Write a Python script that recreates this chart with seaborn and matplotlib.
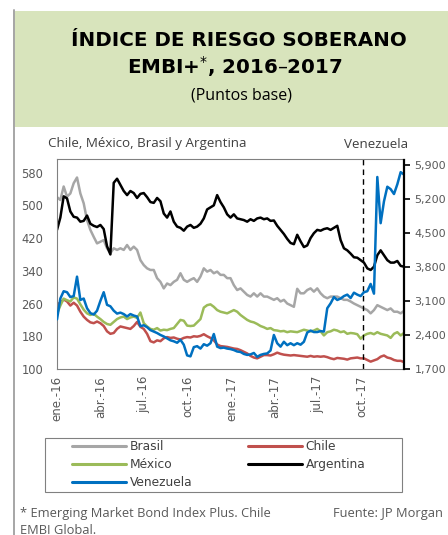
import pandas as pd
import matplotlib
matplotlib.use('Agg')
import matplotlib.pyplot as plt
from matplotlib.lines import Line2D
from matplotlib.patches import Rectangle
import seaborn as sns

# weekly readings, 2016-01-01 .. 2017-12-29
dates = pd.date_range('2016-01-01', '2017-12-29', freq='7D')

brasil = [520, 513, 546, 521, 529, 554, 568, 529, 505, 464,
          440, 423, 407, 411, 415, 395, 383, 395, 391, 395,
          391, 403, 391, 399, 391, 366, 354, 346, 342, 342,
          322, 313, 297, 309, 305, 313, 318, 334, 318, 313,
          318, 322, 313, 326, 346, 338, 342, 334, 338, 330,
          330, 322, 322, 305, 293, 297, 289, 281, 277, 285,
          277, 285, 277, 277, 273, 269, 273, 265, 269, 260,
          256, 252, 296, 285, 285, 293, 297, 289, 297, 285,
          277, 273, 277, 277, 277, 273, 269, 269, 265, 260,
          256, 252, 248, 244, 236, 244, 256, 252, 248, 244,
          248, 240, 240, 236, 242]
chile = [258, 262, 270, 265, 255, 262, 255, 240, 228, 220,
         214, 212, 216, 212, 205, 192, 186, 188, 198, 204,
         202, 200, 198, 205, 215, 203, 198, 186, 168, 165,
         170, 168, 175, 178, 176, 177, 174, 172, 176, 178,
         177, 180, 179, 181, 185, 180, 176, 170, 160, 156,
         155, 154, 152, 150, 149, 146, 142, 138, 132, 128,
         126, 130, 134, 134, 133, 136, 140, 137, 135, 134,
         133, 134, 133, 132, 131, 130, 132, 130, 131, 130,
         131, 129, 126, 124, 127, 126, 125, 123, 126, 127,
         128, 126, 126, 122, 118, 121, 124, 130, 133, 128,
         126, 122, 120, 120, 117]
mexico = [235, 255, 272, 268, 265, 275, 272, 258, 245, 236,
          232, 235, 228, 222, 215, 210, 208, 215, 222, 226,
          228, 222, 226, 228, 225, 238, 212, 204, 198, 196,
          200, 194, 196, 195, 198, 200, 210, 220, 218, 206,
          205, 206, 214, 222, 250, 256, 258, 252, 244, 240,
          238, 236, 240, 244, 240, 232, 226, 220, 216, 214,
          210, 205, 202, 198, 200, 195, 194, 192, 193, 190,
          192, 191, 190, 193, 196, 194, 192, 194, 198, 192,
          182, 190, 192, 196, 194, 190, 192, 186, 188, 187,
          185, 174, 182, 186, 188, 185, 190, 186, 184, 182,
          176, 186, 190, 182, 188]
argentina = [440, 470, 522, 517, 485, 472, 470, 460, 462, 475,
             455, 450, 447, 452, 442, 400, 380, 555, 565, 550,
             535, 525, 535, 530, 518, 528, 530, 520, 508, 506,
             518, 510, 480, 470, 485, 460, 448, 445, 438, 448,
             452, 445, 448, 455, 468, 490, 495, 500, 525, 508,
             495, 478, 470, 478, 468, 466, 464, 460, 466, 462,
             468, 470, 466, 468, 462, 463, 450, 440, 430, 418,
             408, 405, 428, 412, 398, 402, 420, 432, 440, 438,
             442, 444, 440, 445, 450, 415, 395, 390, 382, 373,
             372, 366, 360, 346, 342, 350, 378, 390, 378, 366,
             360, 360, 364, 352, 350]
venezuela = [2720, 3150, 3300, 3280, 3180, 3200, 3600, 3120, 3150, 2950,
             2850, 2820, 2900, 3100, 3280, 3020, 2990, 2900, 2840, 2860,
             2830, 2780, 2830, 2800, 2780, 2580, 2600, 2560, 2500, 2470,
             2440, 2400, 2370, 2330, 2290, 2270, 2240, 2300, 2200, 1980,
             1960, 2150, 2170, 2120, 2210, 2180, 2230, 2420, 2160, 2130,
             2140, 2120, 2110, 2090, 2060, 2050, 2010, 1990, 2000, 2030,
             1950, 1990, 2010, 2020, 2080, 2400, 2230, 2160, 2260, 2190,
             2230, 2190, 2230, 2200, 2260, 2450, 2490, 2460, 2460, 2480,
             2470, 2950, 3050, 3180, 3120, 3150, 3200, 3230, 3160, 3270,
             3230, 3200, 3280, 3300, 3450, 3250, 5650, 4700, 5150, 5450,
             5400, 5300, 5500, 5750, 5700]

tick_dates = pd.to_datetime(['2016-01-01', '2016-04-01', '2016-07-01', '2016-10-01',
                             '2017-01-01', '2017-04-01', '2017-07-01', '2017-10-01'])
tick_labels = ['ene.-16', 'abr.-16', 'jul.-16', 'oct.-16',
               'ene.-17', 'abr.-17', 'jul.-17', 'oct.-17']
left_ticks = [100, 180, 260, 340, 420, 500, 580]
right_ticks = [1700, 2400, 3100, 3800, 4500, 5200, 5900]
marker_date = pd.Timestamp('2017-10-04')

colors = {'Brasil': '#a6a6a6', 'Chile': '#c0504d', 'México': '#9bbb59',
          'Argentina': '#000000', 'Venezuela': '#0070c0'}

df = pd.DataFrame({'fecha': dates, 'Brasil': brasil, 'Chile': chile,
                   'México': mexico, 'Argentina': argentina, 'Venezuela': venezuela})

sns.set_theme(style='white')
plt.rcParams['font.family'] = ['DejaVu Sans']
TXT = 'Open Sans'
GRAY = '#595959'

W, H = 448, 535
fig = plt.figure(figsize=(W / 100, H / 100), dpi=100)

# title band + left frame line
fig.patches.append(Rectangle((13 / W, 1 - 127 / H), 1, 116 / H, transform=fig.transFigure,
                             facecolor='#d8e4bc', edgecolor='none', zorder=0))
fig.lines.append(Line2D([13.5 / W, 13.5 / W], [0, 1 - 10 / H], transform=fig.transFigure,
                        color='#a6a6a6', lw=1.4))

fig.text(239 / W, 1 - 40 / H, 'ÍNDICE DE RIESGO SOBERANO', family='DejaVu Sans',
         weight='bold', fontsize=14.3, color='black', ha='center', va='center')
fig.text(235 / W, 1 - 67 / H, r'EMBI+$^{*}$, 2016–2017', family='DejaVu Sans',
         weight='bold', fontsize=14.3, color='black', ha='center', va='center')
fig.text(241 / W, 1 - 95 / H, '(Puntos base)', family=TXT, fontsize=11.5, color='black',
         ha='center', va='center')
fig.text(48 / W, 1 - 144 / H, 'Chile, México, Brasil y Argentina', family=TXT,
         fontsize=9.6, color='#404040', ha='left', va='center')
fig.text(408 / W, 1 - 144 / H, 'Venezuela', family=TXT, fontsize=9.6, color='#404040',
         ha='right', va='center')

ax = fig.add_axes([57 / W, 1 - 369 / H, (404 - 57) / W, (369 - 159.5) / H])
ax2 = ax.twinx()

for name in ['Brasil', 'Chile', 'México', 'Argentina']:
    sns.lineplot(data=df, x='fecha', y=name, ax=ax, color=colors[name], lw=1.8, legend=False)
sns.lineplot(data=df, x='fecha', y='Venezuela', ax=ax2, color=colors['Venezuela'], lw=1.8,
             legend=False)
ax.axvline(marker_date, color='black', lw=1, ls=(0, (4, 3)))

ax.set_xlim(pd.Timestamp('2016-01-01'), pd.Timestamp('2017-12-29'))
ax.set_ylim(100, 612)
ax2.set_ylim(1700, 6010)
ax.set_xlabel('')
ax.set_ylabel('')
ax2.set_ylabel('')

ax.set_xticks(tick_dates)
ax.set_xticklabels(tick_labels, rotation=90, fontsize=8.5, color=GRAY)
ax.set_yticks(left_ticks)
ax.set_yticklabels([str(v) for v in left_ticks], fontsize=8.3, color=GRAY)
ax2.set_yticks(right_ticks)
ax2.set_yticklabels([f'{v:,}' for v in right_ticks], fontsize=8.0, color=GRAY)

ax.tick_params(axis='x', direction='in', length=4, width=0.8, color='#7f7f7f', pad=5)
ax.tick_params(axis='y', length=0, pad=10)
ax2.tick_params(axis='y', direction='out', length=4, width=1.2, color='black', pad=3.5)
for s in ['left', 'bottom', 'top']:
    ax.spines[s].set_color('#808080')
    ax.spines[s].set_linewidth(0.8)
    ax2.spines[s].set_visible(False)
ax.spines['right'].set_visible(False)
ax2.spines['right'].set_color('black')
ax2.spines['right'].set_linewidth(1.6)

# legend
fig.patches.append(Rectangle((45 / W, 1 - 492 / H), 357 / W, 54 / H, transform=fig.transFigure,
                             facecolor='white', edgecolor='#808080', lw=0.8))
order = ['Brasil', 'México', 'Venezuela', 'Chile', 'Argentina']
handles = [Line2D([], [], color=colors[n], lw=2.2) for n in order]
fig.legend(handles, order, loc='upper left', bbox_to_anchor=(72 / W, 1 - 440 / H), ncol=2,
           frameon=False, prop={'size': 8.8}, handlelength=4.4, handletextpad=0.3,
           columnspacing=4.6, labelspacing=0.42, borderpad=0, borderaxespad=0)
for t in fig.legends[0].get_texts():
    t.set_color('#404040')

fig.text(20 / W, 1 - 513 / H, '* Emerging Market Bond Index Plus. Chile', family=TXT,
         fontsize=9.3, color=GRAY, ha='left', va='center')
fig.text(20 / W, 1 - 530 / H, 'EMBI Global.', family=TXT, fontsize=9.3, color=GRAY,
         ha='left', va='center')
fig.text(333 / W, 1 - 513 / H, 'Fuente: JP Morgan', family=TXT, fontsize=9.3, color=GRAY,
         ha='left', va='center')

fig.savefig('out.png', dpi=100)
plt.close()
